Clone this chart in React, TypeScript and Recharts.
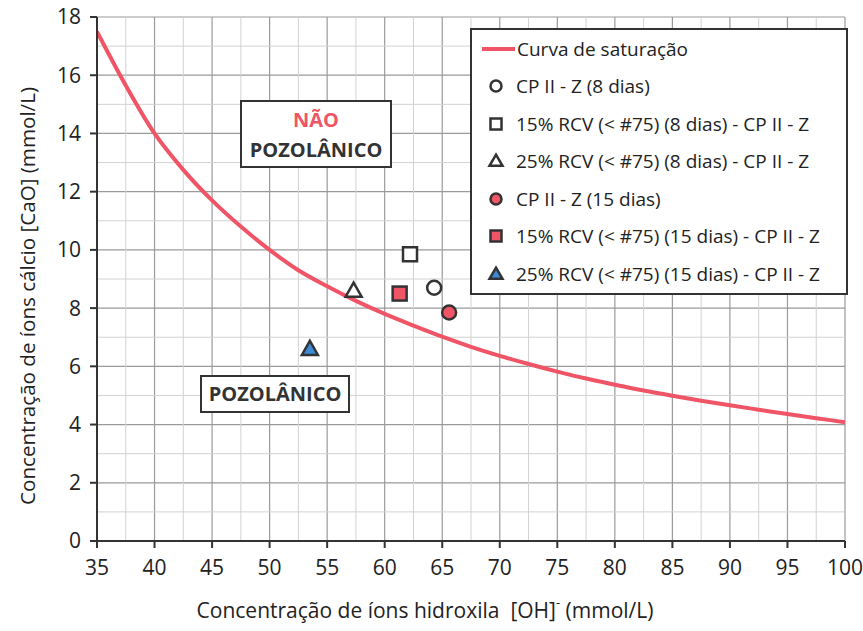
import React from "react";
import {
  ComposedChart,
  Line,
  Scatter,
  XAxis,
  YAxis,
  CartesianGrid,
  ReferenceLine,
} from "recharts";

const FONT = "'Open Sans', 'Liberation Sans', sans-serif";
const RED = "#ef5566";
const BLUE = "#3d8bd6";
const INK = "#333333";

// axis ticks (major grid) and in-between minor grid values
const xTicks = [35, 40, 45, 50, 55, 60, 65, 70, 75, 80, 85, 90, 95, 100];
const yTicks = [0, 2, 4, 6, 8, 10, 12, 14, 16, 18];
const xMinor = [37.5, 42.5, 47.5, 52.5, 57.5, 62.5, 67.5, 72.5, 77.5, 82.5, 87.5, 92.5, 97.5];
const yMinor = [1, 3, 5, 7, 9, 11, 13, 15, 17];

// saturation curve, [OH] vs [CaO]
const curveX = [35, 37.5, 40, 42.5, 45, 47.5, 50, 52.5, 55, 57.5, 60, 62.5, 65, 67.5, 70, 72.5, 75, 77.5, 80, 82.5, 85, 87.5, 90, 92.5, 95, 97.5, 100];
const curveY = [17.5, 15.65, 14.0, 12.75, 11.7, 10.8, 10.0, 9.3, 8.75, 8.25, 7.8, 7.4, 7.02, 6.67, 6.36, 6.08, 5.82, 5.58, 5.37, 5.17, 4.99, 4.82, 4.66, 4.51, 4.36, 4.22, 4.08];

// measured samples
const sampleNames = [
  "CP II - Z (8 dias)",
  "15% RCV (< #75) (8 dias) - CP II - Z",
  "25% RCV (< #75) (8 dias) - CP II - Z",
  "CP II - Z (15 dias)",
  "15% RCV (< #75) (15 dias) - CP II - Z",
  "25% RCV (< #75) (15 dias) - CP II - Z",
];
const sampleOH = [64.3, 62.2, 57.3, 65.6, 61.3, 53.5];
const sampleCaO = [8.7, 9.85, 8.6, 7.85, 8.5, 6.6];
const sampleShape = ["circle", "square", "triangle", "circle", "square", "triangle"];
const sampleFill = ["#ffffff", "#ffffff", "#ffffff", RED, RED, BLUE];

const curveData = curveX.map((x, i) => ({ x, y: curveY[i] }));

function Marker({ kind, cx, cy, fill, size }: { kind: string; cx: number; cy: number; fill: string; size: number }) {
  const h = size / 2;
  if (kind === "circle") {
    return <circle cx={cx} cy={cy} r={h} fill={fill} stroke={INK} strokeWidth={2.5} />;
  }
  if (kind === "square") {
    return <rect x={cx - h} y={cy - h} width={size} height={size} fill={fill} stroke={INK} strokeWidth={2.5} />;
  }
  const t = size * 0.58;
  return (
    <polygon
      points={`${cx},${cy - t} ${cx + h + 1},${cy + t * 0.75} ${cx - h - 1},${cy + t * 0.75}`}
      fill={fill}
      stroke={INK}
      strokeWidth={2.5}
      strokeLinejoin="miter"
    />
  );
}

function LegendBox() {
  return (
    <div
      style={{
        position: "absolute",
        left: 470,
        top: 28,
        width: 374,
        height: 263,
        border: `2px solid ${INK}`,
        background: "#fff",
        fontFamily: FONT,
        fontSize: 19,
        color: "#222",
        whiteSpace: "nowrap",
      }}
    >
      <div style={{ display: "flex", alignItems: "center", height: 37.5 }}>
        <span style={{ display: "inline-block", width: 33, height: 4, background: RED, marginLeft: 10, marginRight: 2 }} />
        Curva de saturação
      </div>
      {sampleNames.map((name, i) => (
        <div key={name} style={{ display: "flex", alignItems: "center", height: 37.5 }}>
          <svg width={44} height={20}>
            <Marker kind={sampleShape[i]} cx={24} cy={10} fill={sampleFill[i]} size={11} />
          </svg>
          {name}
        </div>
      ))}
    </div>
  );
}

function YLabel({ viewBox }: any) {
  const x = 27;
  const y = viewBox.y + viewBox.height / 2 + 17;
  return (
    <text x={x} y={y} transform={`rotate(-90, ${x}, ${y})`} textAnchor="middle" dominantBaseline="central" fontFamily={FONT} fontSize={20.6} fill="#222">
      Concentração de íons cálcio [CaO] (mmol/L)
    </text>
  );
}

function XLabel({ viewBox }: any) {
  const x = viewBox.x + viewBox.width / 2 - 46;
  return (
    <text x={x} y={610} textAnchor="middle" dominantBaseline="central" fontFamily={FONT} fontSize={21} fill="#222">
      Concentração de íons hidroxila{"\u00a0\u00a0"}[OH]
      <tspan dy={-8} fontSize={13}>-</tspan>
      <tspan dy={8}> (mmol/L)</tspan>
    </text>
  );
}

const boxStyle: React.CSSProperties = {
  position: "absolute",
  border: `2px solid ${INK}`,
  background: "#fff",
  fontFamily: FONT,
  fontWeight: 700,
  fontSize: 20,
  textAlign: "center",
  color: INK,
  boxSizing: "border-box",
};

export default function App() {
  return (
    <div style={{ position: "absolute", left: 0, top: 0, width: 863, height: 631, background: "#fff" }}>
      <ComposedChart width={863} height={631} margin={{ top: 17, right: 18, bottom: 30, left: 0 }}>
        <CartesianGrid stroke="#9a9a9a" strokeWidth={1.2} />
        {xMinor.map((v) => (
          <ReferenceLine key={`vx${v}`} x={v} stroke="#d2d2d2" strokeWidth={1} />
        ))}
        {yMinor.map((v) => (
          <ReferenceLine key={`hy${v}`} y={v} stroke="#d2d2d2" strokeWidth={1} />
        ))}
        <XAxis
          type="number"
          dataKey="x"
          domain={[35, 100]}
          ticks={xTicks}
          interval={0}
          height={60}
          allowDataOverflow
          axisLine={{ stroke: INK, strokeWidth: 2 }}
          tickLine={{ stroke: INK, strokeWidth: 2 }}
          tickSize={7}
          tickMargin={12}
          tick={{ fontFamily: FONT, fontSize: 21, fill: "#222" }}
          label={<XLabel />}
        />
        <YAxis
          type="number"
          domain={[0, 18]}
          ticks={yTicks}
          interval={0}
          width={97}
          allowDataOverflow
          axisLine={{ stroke: INK, strokeWidth: 2 }}
          tickLine={{ stroke: INK, strokeWidth: 2 }}
          tickSize={7}
          tickMargin={9}
          tick={{ fontFamily: FONT, fontSize: 21, fill: "#222" }}
          label={<YLabel />}
        />
        <Line
          data={curveData}
          dataKey="y"
          type="monotone"
          stroke={RED}
          strokeWidth={4}
          dot={false}
          activeDot={false}
          isAnimationActive={false}
          name="Curva de saturação"
        />
        {sampleNames.map((name, i) => (
          <Scatter
            key={name}
            name={name}
            data={[{ x: sampleOH[i], y: sampleCaO[i] }]}
            dataKey="y"
            isAnimationActive={false}
            shape={(p: any) => <Marker kind={sampleShape[i]} cx={p.cx} cy={p.cy} fill={sampleFill[i]} size={14} />}
          />
        ))}
      </ComposedChart>
      <LegendBox />
      <div style={{ ...boxStyle, left: 240, top: 100, width: 152, height: 68, lineHeight: "30px", paddingTop: 3 }}>
        <div style={{ color: RED }}>NÃO</div>
        <div>POZOLÂNICO</div>
      </div>
      <div style={{ ...boxStyle, left: 200, top: 375, width: 150, height: 38, lineHeight: "34px" }}>POZOLÂNICO</div>
    </div>
  );
}
